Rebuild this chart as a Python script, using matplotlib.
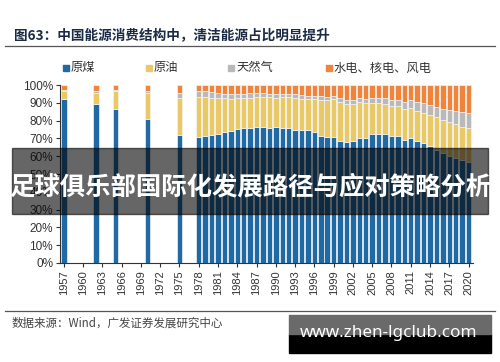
import matplotlib
matplotlib.use("Agg")
import matplotlib.pyplot as plt
from matplotlib.patches import Rectangle
from matplotlib.lines import Line2D

plt.rcParams["font.family"] = ["Noto Sans CJK SC", "DejaVu Sans"]

# ---- data: China energy consumption structure (%) ----
years = [1957, 1962, 1965, 1970, 1975] + list(range(1978, 2021))
coal = [92.3, 89.2, 86.5, 80.9, 71.9,
        70.7, 71.3, 72.2, 72.7, 73.7, 74.2, 75.3, 75.8, 75.8, 76.2,
        76.2, 76.0, 76.2, 76.1, 75.7, 74.7, 75.0, 74.6, 73.5, 71.4,
        70.9, 70.6, 68.5, 68.0, 68.5, 70.2, 70.2, 72.4, 72.4, 72.5,
        71.5, 71.6, 69.2, 70.2, 68.5, 67.4, 65.6, 63.7, 62.0, 60.4,
        59.0, 57.7, 56.8]
oil = [4.6, 6.6, 10.3, 14.7, 21.1,
       22.7, 21.8, 20.7, 20.0, 18.9, 18.1, 17.4, 17.1, 17.2, 17.0,
       17.0, 17.1, 16.6, 17.1, 17.5, 18.2, 17.4, 17.5, 18.7, 20.4,
       20.8, 21.5, 22.0, 21.2, 21.0, 20.1, 19.9, 17.8, 17.5, 17.0,
       16.7, 16.4, 17.4, 16.8, 17.0, 17.1, 17.4, 18.3, 18.5, 18.8,
       18.9, 19.0, 18.9]
gas = [0.1, 0.9, 0.6, 0.9, 2.5,
       3.2, 3.3, 3.1, 2.8, 2.5, 2.4, 2.4, 2.2, 2.3, 2.1,
       2.1, 2.0, 2.1, 2.0, 1.9, 1.9, 1.9, 1.8, 1.8, 1.8,
       1.8, 2.0, 2.2, 2.4, 2.3, 2.3, 2.3, 2.4, 2.7, 3.0,
       3.4, 3.5, 4.0, 4.6, 4.8, 5.3, 5.7, 5.9, 6.2, 7.0,
       7.6, 8.0, 8.4]
clean = [100 - c - o - g for c, o, g in zip(coal, oil, gas)]

labels = ["原煤", "原油", "天然气", "水电、核电、风电"]
colors = ["#1f6aa5", "#e9c965", "#b9b9b9", "#f0843a"]
xticks = list(range(1957, 2021, 3))

fig = plt.figure(figsize=(5, 3.62), dpi=100)
ax = fig.add_axes([0.12, 0.2735, 0.826, 0.4915])

bottom = [0.0] * len(years)
for series, col in zip([coal, oil, gas, clean], colors):
    ax.bar(years, series, bottom=bottom, width=0.85, color=col,
           edgecolor="#f3f3f3", linewidth=0.5)
    bottom = [b + s for b, s in zip(bottom, series)]

ax.set_xlim(1956.4, 2020.7)
ax.set_ylim(0, 100)
ax.set_yticks(range(0, 101, 10))
ax.set_yticklabels([f"{v}%" for v in range(0, 101, 10)],
                   fontsize=8.5, color="#333333", family="Liberation Sans")
ax.set_xticks(xticks)
ax.set_xticklabels([str(y) for y in xticks], rotation=90, fontsize=8,
                   color="#333333", family="Liberation Sans")
ax.tick_params(axis="both", direction="out", length=3, width=0.8, color="#333333", pad=2)
for s in ["top", "right"]:
    ax.spines[s].set_visible(False)
for s in ["left", "bottom"]:
    ax.spines[s].set_color("#333333")
    ax.spines[s].set_linewidth(0.8)

# legend
leg_x = [63, 146, 228, 326]
for lx, lab, col in zip(leg_x, labels, colors):
    fig.patches.append(Rectangle((lx / 500, 1 - 71 / 362), 6 / 500, 6 / 362,
                                 transform=fig.transFigure, color=col))
    fig.text((lx + 8) / 500, 1 - 68 / 362, lab, fontsize=8.8, color="#333333",
             va="center", ha="left")

# title & rules
fig.text(14 / 500, 1 - 35 / 362, "图63：中国能源消费结构中，清洁能源占比明显提升",
         fontsize=9.8, fontweight="bold", color="#1b2a45", va="center", ha="left")
fig.add_artist(Line2D([5 / 500, 495 / 500], [1 - 46 / 362] * 2,
                      transform=fig.transFigure, color="#555555", lw=0.9))
fig.add_artist(Line2D([5 / 500, 495 / 500], [1 - 311 / 362] * 2,
                      transform=fig.transFigure, color="#555555", lw=0.9))
fig.text(12 / 500, 1 - 323 / 362, "数据来源：Wind，广发证券发展研究中心",
         fontsize=8.3, color="#444444", va="center", ha="left")

# overlay banner
fig.patches.append(Rectangle((12 / 500, 1 - 214 / 362), 476 / 500, 66 / 362,
                             transform=fig.transFigure, color="black", alpha=0.6,
                             zorder=5))
fig.text(250 / 500, 1 - 187 / 362, "足球俱乐部国际化发展路径与应对策略分析",
         fontsize=18.3, fontweight="bold", color="white", va="center",
         ha="center", zorder=6)

# watermark box
fig.patches.append(Rectangle((289 / 500, 1 - 353 / 362), 202 / 500, 19 / 362,
                             transform=fig.transFigure, color="black", zorder=5))
fig.patches.append(Rectangle((289 / 500, 1 - 334 / 362), 202 / 500, 19 / 362,
                             transform=fig.transFigure, color="#6a6a6a", zorder=5))
fig.text(389 / 500, 1 - 333 / 362, "www.zhen-lgclub.com", fontsize=12.3,
         fontweight="bold", color="white", va="center", ha="center", zorder=6,
         family="Noto Sans")

fig.savefig("out.png", dpi=100)
